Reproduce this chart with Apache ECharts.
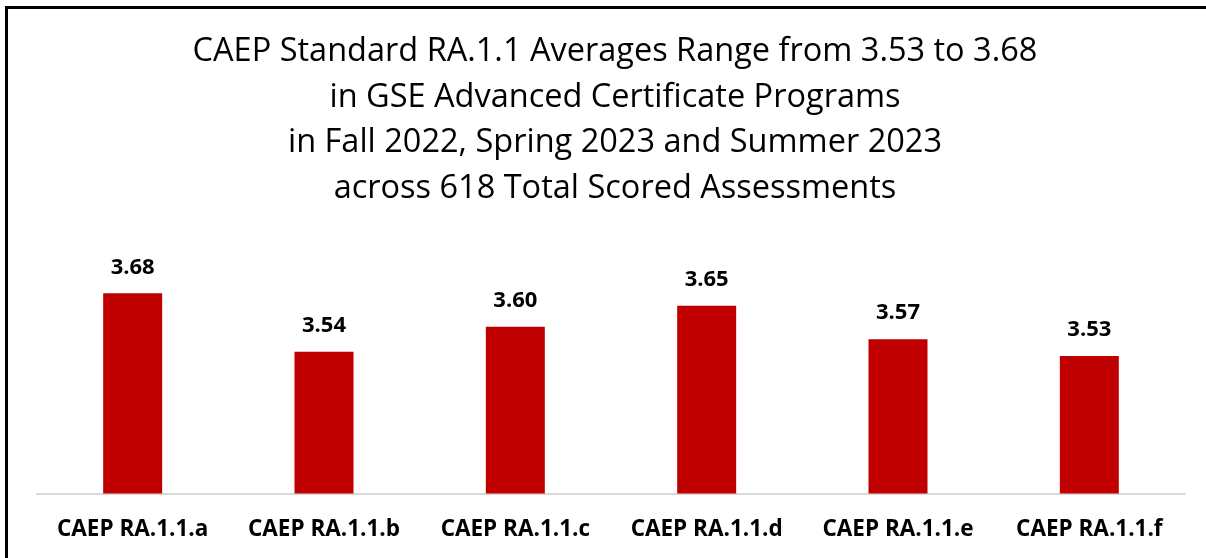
<!DOCTYPE html>
<html>
<head>
<meta charset="utf-8">
<script src="https://cdn.jsdelivr.net/npm/echarts@6/dist/echarts.min.js"></script>
<style>
html,body{margin:0;padding:0;background:#fff;}
#frame{position:absolute;left:5px;top:6px;width:1300px;height:700px;border-left:3px solid #000;border-top:3px solid #000;box-sizing:border-box;}
#chart{position:absolute;left:0;top:0;width:1206px;height:558px;}
</style>
</head>
<body>
<div id="frame"></div>
<div id="chart"></div>
<script>
const titleLines = [
  "CAEP Standard RA.1.1 Averages Range from 3.53 to 3.68",
  "in GSE Advanced Certificate Programs",
  "in Fall 2022, Spring 2023 and Summer 2023",
  "across 618 Total Scored Assessments"
];
const categories = ["CAEP RA.1.1.a","CAEP RA.1.1.b","CAEP RA.1.1.c","CAEP RA.1.1.d","CAEP RA.1.1.e","CAEP RA.1.1.f"];
const averages = [3.68, 3.54, 3.60, 3.65, 3.57, 3.53];

const chart = echarts.init(document.getElementById('chart'), null, {renderer:'canvas'});
chart.setOption({
  backgroundColor: 'transparent',
  animation: false,
  title: {
    text: titleLines.join('\n'),
    left: 610, textAlign: 'center',
    top: 24,
    textStyle: {fontFamily: 'Open Sans', fontWeight: 'normal', fontSize: 32.5, lineHeight: 45.5, color: '#000'}
  },
  grid: {left: 37, right: 21, top: 285, bottom: 64.5},
  xAxis: {
    type: 'category',
    data: categories,
    axisLine: {show: true, lineStyle: {color: '#d9d9d9', width: 2}},
    axisTick: {show: false},
    axisLabel: {interval: 0, fontFamily: 'Open Sans', fontWeight: 'bold', fontSize: 22.5, color: '#000', margin: 25}
  },
  yAxis: {
    type: 'value', min: 3.2, max: 3.7,
    show: false,
    splitLine: {show: false}
  },
  series: [{
    type: 'bar',
    data: averages,
    barWidth: 59,
    itemStyle: {color: '#C00000'},
    label: {
      show: true, position: 'top', distance: 15,
      formatter: p => p.value.toFixed(2),
      fontFamily: 'Open Sans', fontWeight: 'bold', fontSize: 22, color: '#000'
    }
  }]
});
</script>
</body>
</html>
